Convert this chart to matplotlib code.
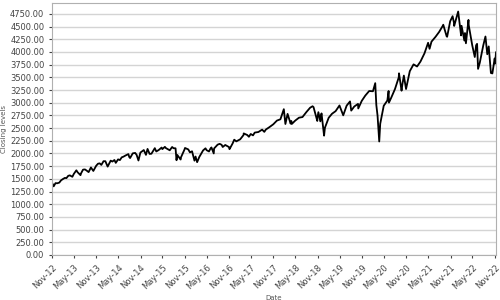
import matplotlib
matplotlib.use("Agg")
import matplotlib.pyplot as plt
import matplotlib.dates as mdates
import matplotlib.ticker as mticker
import pandas as pd

# S&P 500 closing levels (roughly twice a month plus the big swings)
dates = [
    "2012-11-01", "2012-11-15", "2012-11-30", "2012-12-14", "2012-12-31",
    "2013-01-15", "2013-01-31", "2013-02-15", "2013-02-28", "2013-03-15", "2013-03-28",
    "2013-04-18", "2013-04-30", "2013-05-21", "2013-05-31", "2013-06-24", "2013-06-28",
    "2013-07-15", "2013-07-31", "2013-08-15", "2013-08-30", "2013-09-18", "2013-09-30",
    "2013-10-08", "2013-10-31", "2013-11-15", "2013-11-29", "2013-12-13", "2013-12-31",
    "2014-01-15", "2014-02-03", "2014-02-28", "2014-03-14", "2014-03-31", "2014-04-11",
    "2014-04-30", "2014-05-15", "2014-05-30", "2014-06-13", "2014-06-30", "2014-07-24",
    "2014-07-31", "2014-08-07", "2014-08-29", "2014-09-18", "2014-09-30", "2014-10-15",
    "2014-10-31", "2014-11-28", "2014-12-16", "2014-12-29", "2015-01-15", "2015-01-30",
    "2015-02-27", "2015-03-11", "2015-03-31", "2015-04-24", "2015-04-30", "2015-05-21",
    "2015-05-29", "2015-06-30", "2015-07-20", "2015-07-31", "2015-08-17", "2015-08-25",
    "2015-08-31", "2015-09-28", "2015-09-30", "2015-10-30", "2015-11-03", "2015-11-30",
    "2015-12-14", "2015-12-31", "2016-01-20", "2016-01-29", "2016-02-11", "2016-02-29",
    "2016-03-31", "2016-04-20", "2016-04-29", "2016-05-19", "2016-05-31", "2016-06-08",
    "2016-06-27", "2016-06-30", "2016-07-29", "2016-08-15", "2016-08-31", "2016-09-09",
    "2016-09-30", "2016-10-31", "2016-11-04", "2016-11-30", "2016-12-13", "2016-12-30",
    "2017-01-31", "2017-02-28", "2017-03-01", "2017-03-31", "2017-04-13", "2017-04-28",
    "2017-05-17", "2017-05-31", "2017-06-30", "2017-07-31", "2017-08-18", "2017-08-31",
    "2017-09-29", "2017-10-31", "2017-11-30", "2017-12-29", "2018-01-26", "2018-02-08",
    "2018-02-26", "2018-03-23", "2018-03-29", "2018-04-02", "2018-04-30", "2018-05-31",
    "2018-06-29", "2018-07-31", "2018-08-31", "2018-09-20", "2018-09-28", "2018-10-29",
    "2018-10-31", "2018-11-07", "2018-11-23", "2018-11-30", "2018-12-03", "2018-12-24",
    "2018-12-31", "2019-01-31", "2019-02-28", "2019-03-29", "2019-04-30", "2019-05-31",
    "2019-06-28", "2019-07-26", "2019-08-05", "2019-08-30", "2019-09-30", "2019-10-02",
    "2019-10-31", "2019-11-29", "2019-12-31", "2020-01-31", "2020-02-19", "2020-02-28",
    "2020-03-09", "2020-03-23", "2020-03-31", "2020-04-29", "2020-05-29", "2020-06-08",
    "2020-06-11", "2020-06-30", "2020-07-31", "2020-08-31", "2020-09-02", "2020-09-23",
    "2020-09-30", "2020-10-12", "2020-10-30", "2020-11-30", "2020-12-31", "2021-01-29",
    "2021-02-26", "2021-03-31", "2021-04-30", "2021-05-12", "2021-05-28", "2021-06-30",
    "2021-07-30", "2021-08-31", "2021-09-02", "2021-09-30", "2021-10-04", "2021-10-29",
    "2021-11-18", "2021-11-30", "2021-12-01", "2021-12-31", "2022-01-03", "2022-01-27",
    "2022-01-31", "2022-02-23", "2022-02-28", "2022-03-08", "2022-03-29", "2022-03-31",
    "2022-04-29", "2022-05-20", "2022-05-31", "2022-06-08", "2022-06-16", "2022-06-30",
    "2022-07-29", "2022-08-16", "2022-08-31", "2022-09-12", "2022-09-30", "2022-10-12",
    "2022-10-31", "2022-11-04", "2022-11-11",
]
closes = [
    1427, 1353, 1416, 1413, 1426,
    1472, 1498, 1519, 1515, 1560, 1569,
    1541, 1598, 1669, 1631, 1573, 1606,
    1682, 1686, 1661, 1633, 1725, 1682,
    1656, 1757, 1798, 1806, 1775, 1848,
    1848, 1742, 1859, 1841, 1872, 1815,
    1884, 1870, 1924, 1937, 1960, 1988,
    1931, 1910, 2003, 2011, 1972, 1862,
    2018, 2068, 1973, 2090, 1992, 1995,
    2105, 2040, 2068, 2117, 2086, 2131,
    2107, 2063, 2128, 2104, 2102, 1867,
    1972, 1881, 1920, 2079, 2109, 2080,
    2021, 2044, 1859, 1940, 1829, 1932,
    2060, 2102, 2065, 2040, 2097, 2119,
    2001, 2099, 2174, 2190, 2171, 2128,
    2168, 2126, 2085, 2199, 2272, 2239,
    2279, 2364, 2396, 2363, 2329, 2384,
    2357, 2412, 2423, 2470, 2426, 2472,
    2519, 2575, 2648, 2674, 2873, 2581,
    2780, 2588, 2641, 2582, 2648, 2705,
    2718, 2816, 2902, 2931, 2914, 2641,
    2712, 2814, 2633, 2760, 2790, 2351,
    2507, 2704, 2784, 2834, 2946, 2752,
    2942, 3026, 2845, 2926, 2977, 2887,
    3038, 3141, 3231, 3226, 3386, 2954,
    2747, 2237, 2585, 2940, 3044, 3232,
    3002, 3100, 3271, 3500, 3580, 3237,
    3363, 3535, 3270, 3622, 3756, 3714,
    3811, 3973, 4181, 4063, 4204, 4298,
    4395, 4523, 4537, 4308, 4300, 4605,
    4705, 4567, 4513, 4766, 4797, 4326,
    4516, 4225, 4374, 4171, 4632, 4530,
    4132, 3901, 4132, 4160, 3667, 3785,
    4130, 4305, 3955, 4110, 3586, 3577,
    3872, 3770, 3993,
]

x = pd.to_datetime(dates)

fig = plt.figure(figsize=(5, 3), dpi=100)
ax = fig.add_axes([0.104, 0.15, 0.888, 0.84])

ax.plot(x, closes, color="black", lw=1.3)

ax.set_xlim(x[0], x[-1])
ax.set_ylim(0, 4965)
ax.yaxis.set_major_locator(mticker.MultipleLocator(250))
ax.yaxis.set_major_formatter(mticker.FormatStrFormatter("%.2f"))
ax.xaxis.set_major_locator(mdates.MonthLocator(bymonth=[5, 11]))
ax.xaxis.set_major_formatter(mdates.DateFormatter("%b-%y"))

ax.grid(axis="y", color="#d4d4d4", lw=1)
ax.set_axisbelow(True)
for s in ax.spines.values():
    s.set_color("#b0b0b0")

ax.tick_params(axis="y", labelsize=6, colors="#444444", length=2)
ax.tick_params(axis="x", labelsize=6, colors="#444444", length=2)
for lbl in ax.get_xticklabels():
    lbl.set_rotation(45)
    lbl.set_ha("right")
    lbl.set_rotation_mode("anchor")

ax.set_xlabel("Date", fontsize=5, color="#555555", labelpad=3)
ax.set_ylabel("Closing levels", fontsize=5, color="#555555", labelpad=2)

fig.savefig("out.png", dpi=100)
